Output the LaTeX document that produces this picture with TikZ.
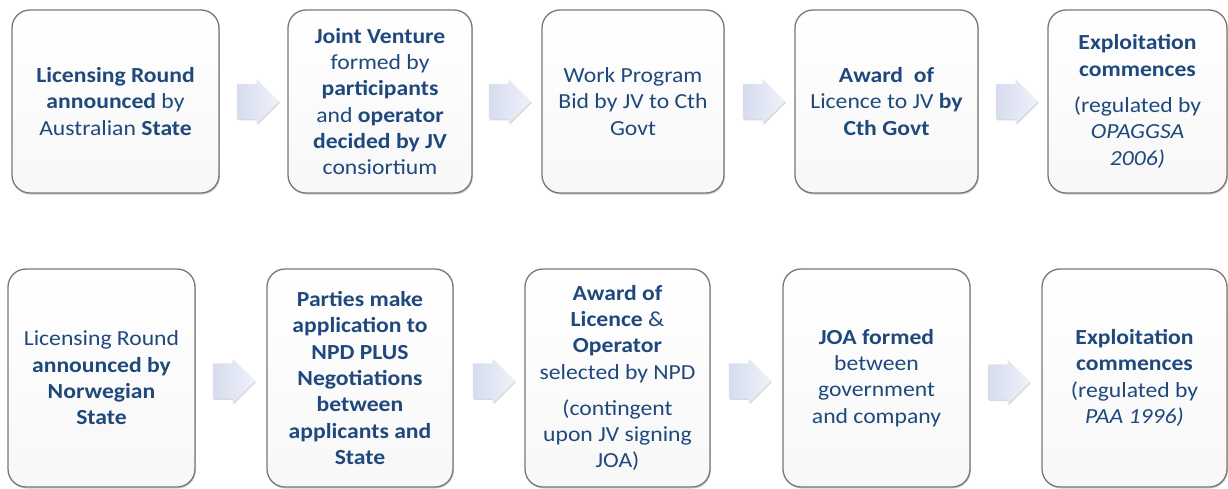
\documentclass[tikz,border=0pt]{standalone}
\usepackage{fontspec}
\setmainfont{Carlito}[FakeStretch=1.1]
\usetikzlibrary{shapes.arrows,shadows,calc}
\definecolor{txtblue}{RGB}{31,73,125}
\definecolor{boxline}{RGB}{120,120,120}
\definecolor{arrL}{RGB}{214,220,238}
\definecolor{arrR}{RGB}{240,242,250}
\tikzset{
  stagebox/.style={draw=boxline, line width=1.3pt, rounded corners=18pt,
    top color=white, bottom color=black!3,
    drop shadow={shadow xshift=0.8pt, shadow yshift=-1.5pt, opacity=0.4},
    text=txtblue, align=center, inner sep=4pt,
    font=\fontsize{21.5}{26.3}\selectfont},
  flowarrow/.style={single arrow, draw=none, minimum height=42pt, minimum width=0pt,
    text height=0pt, text depth=0pt, text width=0pt,
    inner xsep=0pt, inner ysep=17.5pt,
    single arrow head extend=4.5pt, anchor=west,
    left color=arrL, right color=arrR,
    drop shadow={shadow xshift=1pt, shadow yshift=-1.2pt, opacity=0.3}}
}
\begin{document}
\begin{tikzpicture}[x=1pt,y=-1pt]
\useasboundingbox (0,0) rectangle (1228,488);
% top row
\node[stagebox, minimum width=207pt, minimum height=183pt] (t1) at (115.5,101.5)
  {\textbf{Licensing Round}\\\textbf{announced} by\\Australian \textbf{State}};
\node[stagebox, minimum width=184pt, minimum height=183pt] (t2) at (380,101.5)
  {\textbf{Joint Venture}\\formed by\\\textbf{participants}\\and \textbf{operator}\\\textbf{decided by JV}\\consiortium};
\node[stagebox, minimum width=182pt, minimum height=183pt] (t3) at (633,101.5)
  {Work Program\\Bid by JV to Cth\\Govt};
\node[stagebox, minimum width=183pt, minimum height=183pt] (t4) at (886.5,101.5)
  {\textbf{Award\ \ of}\\Licence to JV \textbf{by}\\\textbf{Cth Govt}};
\node[stagebox, minimum width=179pt, minimum height=183pt] (t5) at (1137.5,101.5)
  {\textbf{Exploitation}\\\textbf{commences}\\[10pt](regulated by\\\textit{OPAGGSA}\\\textit{2006)}};
% bottom row
\node[stagebox, minimum width=187pt, minimum height=218pt] (b1) at (101.5,378)
  {Licensing Round\\\textbf{announced by}\\\textbf{Norwegian}\\\textbf{State}};
\node[stagebox, minimum width=186pt, minimum height=218pt] (b2) at (360,378)
  {\textbf{Parties make}\\\textbf{application to}\\\textbf{NPD PLUS}\\\textbf{Negotiations}\\\textbf{between}\\\textbf{applicants and}\\\textbf{State}};
\node[stagebox, minimum width=185pt, minimum height=218pt] (b3) at (617.5,378)
  {\textbf{Award of}\\\textbf{Licence} \&\\\textbf{Operator}\\selected by NPD\\[10pt](contingent\\upon JV signing\\JOA)};
\node[stagebox, minimum width=187pt, minimum height=218pt] (b4) at (876.5,378)
  {\textbf{JOA formed}\\between\\government\\and company};
\node[stagebox, minimum width=185pt, minimum height=218pt] (b5) at (1134.5,378)
  {\textbf{Exploitation}\\\textbf{commences}\\(regulated by\\\textit{PAA 1996)}};
% arrows
\node[flowarrow] (ta1) at ($(t1.east)+(17,0)$) {};
\node[flowarrow] (ta2) at ($(t2.east)+(16,0)$) {};
\node[flowarrow] (ta3) at ($(t3.east)+(18,0)$) {};
\node[flowarrow] (ta4) at ($(t4.east)+(17,0)$) {};
\node[flowarrow] (ba1) at ($(b1.east)+(17,3)$) {};
\node[flowarrow] (ba2) at ($(b2.east)+(19,3)$) {};
\node[flowarrow] (ba3) at ($(b3.east)+(18,3)$) {};
\node[flowarrow] (ba4) at ($(b4.east)+(17,4)$) {};
\end{tikzpicture}
\end{document}
